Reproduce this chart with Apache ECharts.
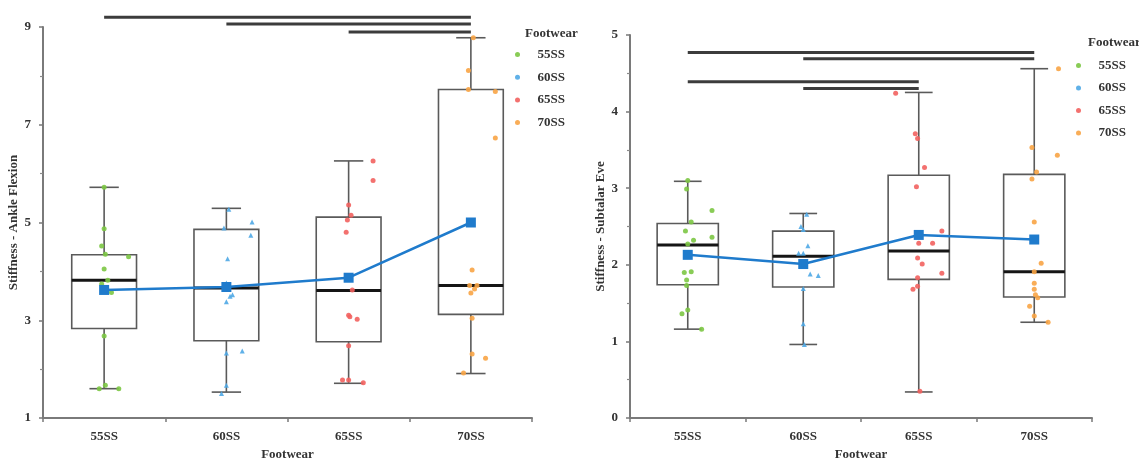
<!DOCTYPE html>
<html><head><meta charset="utf-8">
<script src="https://cdn.jsdelivr.net/npm/echarts@6/dist/echarts.min.js"></script>
<style>html,body{margin:0;padding:0;background:#fff}#c{width:1139px;height:466px}</style>
</head><body><div id="c"></div>
<script>
const categories = ['55SS', '60SS', '65SS', '70SS'];
const groupColors = ['#7cc644', '#4fa9e6', '#f2625f', '#f8a445'];

// Box statistics: [min, Q1, median, Q3, max]
const ankleBox = [
  [1.60, 2.83, 3.82, 4.34, 5.72],
  [1.53, 2.58, 3.66, 4.86, 5.29],
  [1.71, 2.56, 3.61, 5.11, 6.26],
  [1.91, 3.12, 3.71, 7.72, 8.78]
];
const ankleMean = [3.62, 3.68, 3.87, 5.00];
const subtalarBox = [
  [1.16, 1.74, 2.26, 2.54, 3.09],
  [0.96, 1.71, 2.11, 2.44, 2.67],
  [0.34, 1.81, 2.18, 3.17, 4.25],
  [1.25, 1.58, 1.91, 3.18, 4.56]
];
const subtalarMean = [2.13, 2.01, 2.39, 2.33];

// Individual observations (values) and horizontal jitter (fraction of a category)
const ankle55 = [5.72, 4.87, 4.52, 4.35, 4.30, 4.05, 3.82, 3.74, 3.66, 3.57, 2.68, 1.60, 1.67, 1.60];
const ankle55Jit = [0, 0, -0.02, 0.01, 0.2, 0, 0.03, -0.02, 0.02, 0.06, 0, -0.04, 0.01, 0.12];
const ankle60 = [5.27, 5.01, 4.74, 4.89, 4.26, 3.76, 3.70, 3.52, 3.49, 3.38, 2.33, 2.37, 1.67, 1.50];
const ankle60Jit = [0.02, 0.21, 0.2, -0.02, 0.01, 0, 0, 0.05, 0.03, 0, 0, 0.13, 0, -0.04];
const ankle65 = [6.26, 5.86, 5.36, 5.15, 5.05, 4.80, 3.62, 3.10, 3.07, 3.02, 2.48, 1.78, 1.78, 1.72];
const ankle65Jit = [0.2, 0.2, 0, 0.02, -0.01, -0.02, 0.03, 0, 0.01, 0.07, 0, -0.05, 0, 0.12];
const ankle70 = [8.78, 8.11, 7.72, 7.68, 6.73, 4.03, 3.71, 3.71, 3.64, 3.56, 3.04, 2.31, 2.22, 1.92];
const ankle70Jit = [0.02, -0.02, -0.02, 0.2, 0.2, 0.01, -0.01, 0.05, 0.03, 0, 0.01, 0.01, 0.12, -0.06];

const sub55 = [3.10, 2.99, 2.71, 2.56, 2.44, 2.36, 2.32, 2.27, 1.90, 1.91, 1.80, 1.73, 1.41, 1.36, 1.16];
const sub55Jit = [0, -0.01, 0.21, 0.03, -0.02, 0.21, 0.05, 0, -0.03, 0.03, -0.01, -0.01, 0, -0.05, 0.12];
const sub60 = [2.66, 2.50, 2.46, 2.25, 2.15, 2.15, 2.00, 1.88, 1.86, 1.69, 1.23, 0.96];
const sub60Jit = [0.03, -0.02, 0, 0.04, -0.04, 0, 0, 0.06, 0.13, 0, 0, 0.01];
const sub65 = [4.24, 3.71, 3.65, 3.27, 3.02, 2.44, 2.28, 2.28, 2.09, 2.01, 1.89, 1.83, 1.72, 1.68, 0.35];
const sub65Jit = [-0.2, -0.03, -0.01, 0.05, -0.02, 0.2, 0, 0.12, -0.01, 0.03, 0.2, -0.01, -0.01, -0.05, 0.01];
const sub70 = [4.56, 3.53, 3.43, 3.21, 3.12, 2.56, 2.02, 1.91, 1.76, 1.68, 1.61, 1.57, 1.46, 1.33, 1.25];
const sub70Jit = [0.21, -0.02, 0.2, 0.02, -0.02, 0, 0.06, 0, 0, 0, 0.01, 0.03, -0.04, 0, 0.12];

// Significance bars: [from category index, to category index, height]
const ankleSig = [[0, 3, 9.2], [1, 3, 9.06], [2, 3, 8.9]];
const subtalarSig = [[0, 3, 4.77], [1, 3, 4.69], [0, 2, 4.39], [1, 2, 4.30]];

const FONT = '"Liberation Serif", "DejaVu Serif", serif';
const txt = {fontFamily: FONT, fontWeight: 'bold', fontSize: 13, color: '#333'};

function boxRender(params, api) {
  const i = api.value(0);
  const lo = api.coord([i, api.value(1)]);
  const q1 = api.coord([i, api.value(2)]);
  const md = api.coord([i, api.value(3)]);
  const q3 = api.coord([i, api.value(4)]);
  const hi = api.coord([i, api.value(5)]);
  const band = api.size([1, 0])[0];
  const bw = band * 0.53, cw = band * 0.24;
  const x = lo[0];
  const st = {stroke: '#5a5a5a', lineWidth: 1.6, fill: null};
  return {type: 'group', children: [
    {type: 'line', shape: {x1: x, y1: hi[1], x2: x, y2: q3[1]}, style: st},
    {type: 'line', shape: {x1: x, y1: q1[1], x2: x, y2: lo[1]}, style: st},
    {type: 'line', shape: {x1: x - cw / 2, y1: hi[1], x2: x + cw / 2, y2: hi[1]}, style: st},
    {type: 'line', shape: {x1: x - cw / 2, y1: lo[1], x2: x + cw / 2, y2: lo[1]}, style: st},
    {type: 'rect', shape: {x: x - bw / 2, y: q3[1], width: bw, height: q1[1] - q3[1]},
      style: {stroke: '#5a5a5a', lineWidth: 1.6, fill: 'rgba(255,255,255,0)'}},
    {type: 'line', shape: {x1: x - bw / 2, y1: md[1], x2: x + bw / 2, y2: md[1]},
      style: {stroke: '#151515', lineWidth: 3}}
  ]};
}
function sigRender(params, api) {
  const a = api.coord([api.value(0), api.value(2)]);
  const b = api.coord([api.value(1), api.value(2)]);
  return {type: 'line', shape: {x1: a[0], y1: a[1], x2: b[0], y2: b[1]},
    style: {stroke: '#3c3c3c', lineWidth: 3}};
}

function catAxis(gi) {
  return {type: 'category', gridIndex: gi, data: categories, boundaryGap: true,
    name: 'Footwear', nameLocation: 'middle', nameGap: 30, nameTextStyle: txt,
    axisLine: {onZero: false, lineStyle: {color: '#7a7a7a', width: 2}},
    axisTick: {show: true, length: 4, lineStyle: {color: '#7a7a7a', width: 1.5}},
    axisLabel: Object.assign({margin: 12}, txt), splitLine: {show: false}};
}
function valXAxis(gi) {
  return {type: 'value', gridIndex: gi, min: -0.5, max: 3.5, show: false, splitLine: {show: false}};
}
function yAxis(gi, min, max, interval, name) {
  return {type: 'value', gridIndex: gi, min: min, max: max, interval: interval,
    name: name, nameLocation: 'middle', nameGap: 20, nameTextStyle: txt,
    axisLine: {show: true, onZero: false, lineStyle: {color: '#7a7a7a', width: 2}},
    axisTick: {show: true, length: 4, lineStyle: {color: '#7a7a7a', width: 1.5}},
    minorTick: {show: true, splitNumber: 2, length: 3, lineStyle: {color: '#8a8a8a', width: 1.2}},
    axisLabel: Object.assign({margin: 12}, txt), splitLine: {show: false}};
}

const ankleSets = [[ankle55, ankle55Jit], [ankle60, ankle60Jit], [ankle65, ankle65Jit], [ankle70, ankle70Jit]];
const subSets = [[sub55, sub55Jit], [sub60, sub60Jit], [sub65, sub65Jit], [sub70, sub70Jit]];

function panelSeries(gi, boxes, means, sets, sig) {
  const xi = gi + 2;
  const s = [];
  s.push({type: 'custom', xAxisIndex: xi, yAxisIndex: gi, renderItem: boxRender, z: 2,
    encode: {x: 0, y: [1, 2, 3, 4, 5]}, data: boxes.map((b, i) => [i].concat(b)), silent: true});
  sets.forEach((set, i) => {
    s.push({type: 'scatter', name: categories[i], xAxisIndex: xi, yAxisIndex: gi, z: 3,
      symbol: i === 1 ? 'triangle' : 'circle', symbolSize: 5,
      itemStyle: {color: groupColors[i], opacity: 0.9},
      data: set[0].map((v, k) => [i + set[1][k], v])});
  });
  s.push({type: 'line', xAxisIndex: xi, yAxisIndex: gi, z: 4, symbol: 'rect', symbolSize: 10,
    lineStyle: {color: '#1f7bcc', width: 2.5}, itemStyle: {color: '#1f7bcc'},
    data: means.map((m, i) => [i, m])});
  s.push({type: 'custom', xAxisIndex: xi, yAxisIndex: gi, renderItem: sigRender, z: 2, clip: false,
    encode: {x: [0, 1], y: 2}, data: sig, silent: true});
  return s;
}

const chart = echarts.init(document.getElementById('c'), null, {renderer: 'canvas'});
chart.setOption({
  animation: false,
  backgroundColor: '#fff',
  title: [
    {text: 'Footwear', left: 520, top: 22, textStyle: txt},
    {text: 'Footwear', left: 1083, top: 31, textStyle: txt}
  ],
  legend: [
    {data: categories, orient: 'vertical', left: 510, top: 42, icon: 'circle',
      itemWidth: 30, itemHeight: 5, itemGap: 7.7, textStyle: Object.assign({lineHeight: 15}, txt)},
    {data: categories, orient: 'vertical', left: 1071, top: 53, icon: 'circle',
      itemWidth: 30, itemHeight: 5, itemGap: 7.5, textStyle: Object.assign({lineHeight: 15}, txt)}
  ],
  grid: [
    {left: 43, top: 27, width: 489, height: 395},
    {left: 630, top: 35, width: 462, height: 388}
  ],
  xAxis: [catAxis(0), catAxis(1), valXAxis(0), valXAxis(1)],
  yAxis: [
    yAxis(0, 1, 9, 2, 'Stiffness - Ankle Flexion'),
    yAxis(1, 0, 5, 1, 'Stiffness - Subtalar Eve')
  ],
  series: panelSeries(0, ankleBox, ankleMean, ankleSets, ankleSig)
    .concat(panelSeries(1, subtalarBox, subtalarMean, subSets, subtalarSig))
});
</script>
</body></html>
